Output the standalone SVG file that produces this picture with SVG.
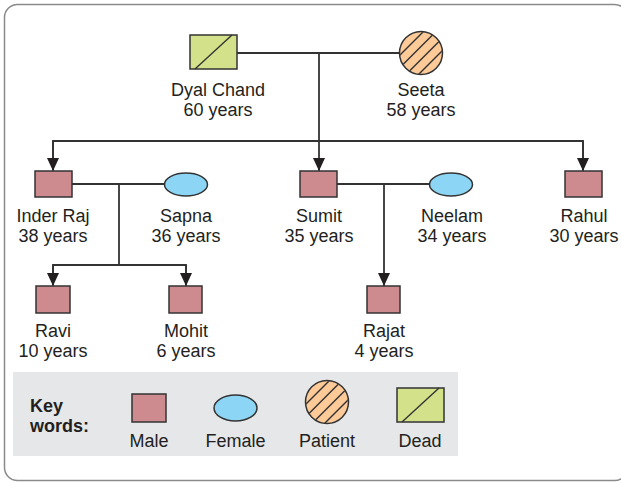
<svg xmlns="http://www.w3.org/2000/svg" xmlns:xlink="http://www.w3.org/1999/xlink" width="621" height="482" viewBox="0 0 621 482">
<style>
text{font-family:"Liberation Sans",Arial,sans-serif;font-size:18px;fill:#231f20;text-anchor:middle}
.key{font-weight:bold;text-anchor:start}
.male{fill:#cd8b8f;stroke:#333;stroke-width:1.5}
.female{fill:#8dd5f4;stroke:#333;stroke-width:1.5}
.patient{fill:#fdca98;stroke:#333;stroke-width:1.5}
.dead{fill:#d3e28a;stroke:#333;stroke-width:1.5}
.hatch{stroke:#333;stroke-width:1.4}
.conn{fill:none;stroke:#333;stroke-width:1.8}
</style>
<defs>
<marker id="arr" markerUnits="userSpaceOnUse" markerWidth="14" markerHeight="14" viewBox="0 0 14 14" refX="7" refY="13" orient="0">
<path d="M1,0 L13,0 L7,13 Z" fill="#231f20"/>
</marker>
<clipPath id="pc"><circle cx="0" cy="0" r="21"/></clipPath>
<g id="pat">
<circle class="patient" cx="0" cy="0" r="21.5"/>
<g clip-path="url(#pc)" class="hatch">
<line x1="-49" y1="30" x2="11" y2="-30"/>
<line x1="-36.5" y1="30" x2="23.5" y2="-30"/>
<line x1="-23.5" y1="30" x2="36.5" y2="-30"/>
<line x1="-11" y1="30" x2="49" y2="-30"/>
</g>
</g>
</defs>
<rect x="4.5" y="4.5" width="623" height="476" rx="13" fill="#fff" stroke="#8a8a8a" stroke-width="1.5"/>

<g id="connectors">
<line class="conn" x1="237" y1="53" x2="400" y2="53"/>
<line class="conn" x1="319" y1="53" x2="319" y2="141"/>
<path class="conn" d="M53,169 V141 H583 V169" />
<line class="conn" x1="53" y1="141" x2="53" y2="171" marker-end="url(#arr)"/>
<line class="conn" x1="319" y1="141" x2="319" y2="171" marker-end="url(#arr)"/>
<line class="conn" x1="583" y1="141" x2="583" y2="171" marker-end="url(#arr)"/>
<line class="conn" x1="72" y1="184" x2="164" y2="184"/>
<line class="conn" x1="119" y1="184" x2="119" y2="265"/>
<path class="conn" d="M53,284 V265 H186 V284"/>
<line class="conn" x1="53" y1="265" x2="53" y2="286" marker-end="url(#arr)"/>
<line class="conn" x1="186" y1="265" x2="186" y2="286" marker-end="url(#arr)"/>
<line class="conn" x1="337" y1="184" x2="429" y2="184"/>
<line class="conn" x1="384" y1="184" x2="384" y2="286" marker-end="url(#arr)"/>
</g>

<g id="dyal">
<rect class="dead" x="190" y="35" width="47" height="34"/>
<line class="hatch" x1="195" y1="69" x2="232" y2="35"/>
<text x="218" y="96">Dyal Chand</text>
<text x="218" y="116">60 years</text>
</g>
<g id="seeta">
<use xlink:href="#pat" x="421" y="53"/>
<text x="421" y="96">Seeta</text>
<text x="421" y="116">58 years</text>
</g>
<g id="inder">
<rect class="male" x="35" y="171" width="37" height="26"/>
<text x="53" y="222">Inder Raj</text>
<text x="53" y="242">38 years</text>
</g>
<g id="sapna">
<ellipse class="female" cx="186" cy="184.5" rx="21.5" ry="11.5"/>
<text x="186" y="222">Sapna</text>
<text x="186" y="242">36 years</text>
</g>
<g id="sumit">
<rect class="male" x="300" y="171" width="37" height="26"/>
<text x="319" y="222">Sumit</text>
<text x="319" y="242">35 years</text>
</g>
<g id="neelam">
<ellipse class="female" cx="451" cy="184.5" rx="21.5" ry="11.5"/>
<text x="452" y="222">Neelam</text>
<text x="452" y="242">34 years</text>
</g>
<g id="rahul">
<rect class="male" x="565" y="171" width="37" height="26"/>
<text x="584" y="222">Rahul</text>
<text x="584" y="242">30 years</text>
</g>
<g id="ravi">
<rect class="male" x="36" y="286" width="34" height="27"/>
<text x="53" y="337">Ravi</text>
<text x="53" y="357">10 years</text>
</g>
<g id="mohit">
<rect class="male" x="169" y="286" width="33" height="27"/>
<text x="186" y="337">Mohit</text>
<text x="186" y="357">6 years</text>
</g>
<g id="rajat">
<rect class="male" x="367" y="286" width="33" height="27"/>
<text x="384" y="337">Rajat</text>
<text x="384" y="357">4 years</text>
</g>

<g id="legend">
<rect x="13" y="372" width="445" height="84" fill="#e6e7e8"/>
<text class="key" x="30" y="412">Key</text>
<text class="key" x="30" y="432">words:</text>
<rect class="male" x="132" y="394" width="34" height="28"/>
<text x="149" y="447">Male</text>
<ellipse class="female" cx="235.5" cy="408" rx="21.5" ry="13"/>
<text x="235.5" y="447">Female</text>
<use xlink:href="#pat" x="327" y="402"/>
<text x="327" y="447">Patient</text>
<rect class="dead" x="397" y="388" width="47" height="34"/>
<line class="hatch" x1="402" y1="422" x2="439" y2="388"/>
<text x="420" y="447">Dead</text>
</g>
</svg>
